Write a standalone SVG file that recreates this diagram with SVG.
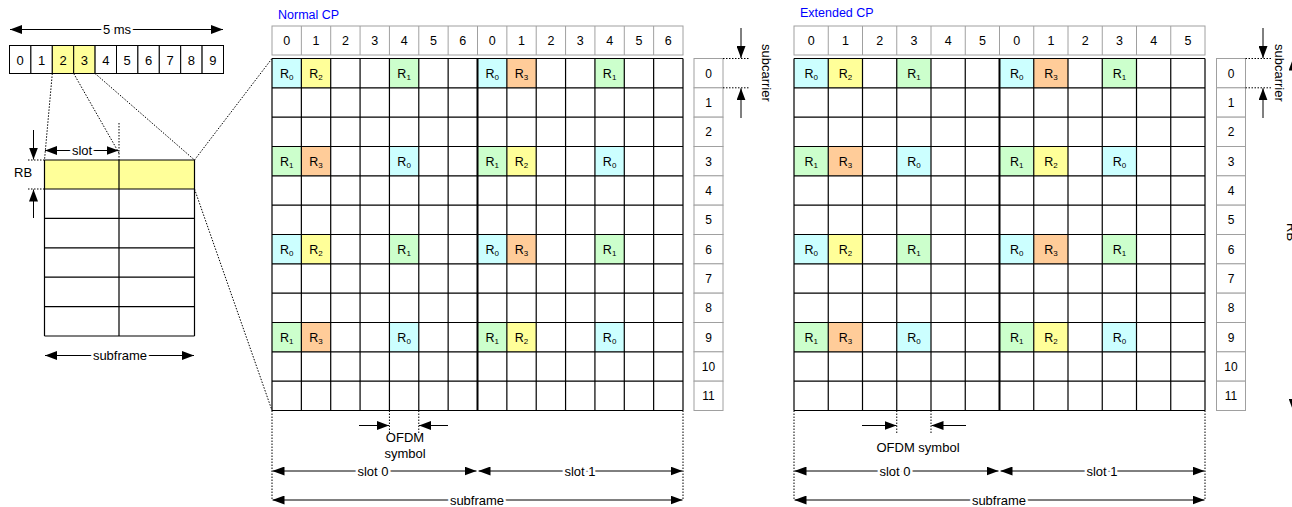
<svg xmlns="http://www.w3.org/2000/svg" xmlns:xlink="http://www.w3.org/1999/xlink" width="1292" height="507" viewBox="0 0 1292 507">
<style>
text{font-family:"Liberation Sans",Arial,sans-serif;font-size:13px;fill:#000}
.c{text-anchor:middle}
.hd{font-size:12.5px}
.ix{font-size:12px}
.r{font-size:12.5px;text-anchor:middle}
.sub{font-size:8px}
.lbl{text-anchor:middle;stroke:#fff;stroke-width:5;paint-order:stroke;stroke-linejoin:round}
.blue{fill:#0000ff;font-size:12.5px}
.box{fill:#fff;stroke:#000;stroke-width:1}
.hbox{fill:#fff;stroke:#a0a0a0;stroke-width:1}
.grid{fill:none;stroke:#000;stroke-width:1.2}
.thick{fill:none;stroke:#000;stroke-width:2}
.dot{fill:none;stroke:#000;stroke-width:1;stroke-dasharray:1.5 1.5}
.arr{fill:none;stroke:#000;stroke-width:1}
.a1{marker-end:url(#ah)}
.a2{marker-start:url(#ah);marker-end:url(#ah)}
.R0{fill:#ccffff}.R1{fill:#ccffcc}.R2{fill:#ffff99}.R3{fill:#ffcc99}
</style>
<defs>
<marker id="ah" viewBox="0 0 12 9" refX="12" refY="4.5" markerWidth="12" markerHeight="9" orient="auto-start-reverse" markerUnits="userSpaceOnUse"><path d="M0,0L12,4.5L0,9z" fill="#000"/></marker>
<g id="nA">
<rect class="R0" x="272" y="58.5" width="29.36" height="29.33"/>
<rect class="R2" x="301.36" y="58.5" width="29.36" height="29.33"/>
<rect class="R1" x="389.43" y="58.5" width="29.36" height="29.33"/>
<rect class="R0" x="477.5" y="58.5" width="29.36" height="29.33"/>
<rect class="R3" x="506.86" y="58.5" width="29.36" height="29.33"/>
<rect class="R1" x="594.93" y="58.5" width="29.36" height="29.33"/>
<text class="r" x="286.68" y="77.5">R<tspan class="sub" dy="2">0</tspan></text>
<text class="r" x="316.04" y="77.5">R<tspan class="sub" dy="2">2</tspan></text>
<text class="r" x="404.11" y="77.5">R<tspan class="sub" dy="2">1</tspan></text>
<text class="r" x="492.18" y="77.5">R<tspan class="sub" dy="2">0</tspan></text>
<text class="r" x="521.54" y="77.5">R<tspan class="sub" dy="2">3</tspan></text>
<text class="r" x="609.61" y="77.5">R<tspan class="sub" dy="2">1</tspan></text>
</g>
<g id="nB">
<rect class="R1" x="272" y="146.5" width="29.36" height="29.33"/>
<rect class="R3" x="301.36" y="146.5" width="29.36" height="29.33"/>
<rect class="R0" x="389.43" y="146.5" width="29.36" height="29.33"/>
<rect class="R1" x="477.5" y="146.5" width="29.36" height="29.33"/>
<rect class="R2" x="506.86" y="146.5" width="29.36" height="29.33"/>
<rect class="R0" x="594.93" y="146.5" width="29.36" height="29.33"/>
<text class="r" x="286.68" y="165.5">R<tspan class="sub" dy="2">1</tspan></text>
<text class="r" x="316.04" y="165.5">R<tspan class="sub" dy="2">3</tspan></text>
<text class="r" x="404.11" y="165.5">R<tspan class="sub" dy="2">0</tspan></text>
<text class="r" x="492.18" y="165.5">R<tspan class="sub" dy="2">1</tspan></text>
<text class="r" x="521.54" y="165.5">R<tspan class="sub" dy="2">2</tspan></text>
<text class="r" x="609.61" y="165.5">R<tspan class="sub" dy="2">0</tspan></text>
</g>
<g id="eA">
<rect class="R0" x="794" y="58.5" width="34.25" height="29.33"/>
<rect class="R2" x="828.25" y="58.5" width="34.25" height="29.33"/>
<rect class="R1" x="896.75" y="58.5" width="34.25" height="29.33"/>
<rect class="R0" x="999.5" y="58.5" width="34.25" height="29.33"/>
<rect class="R3" x="1033.75" y="58.5" width="34.25" height="29.33"/>
<rect class="R1" x="1102.25" y="58.5" width="34.25" height="29.33"/>
<text class="r" x="811.13" y="77.5">R<tspan class="sub" dy="2">0</tspan></text>
<text class="r" x="845.38" y="77.5">R<tspan class="sub" dy="2">2</tspan></text>
<text class="r" x="913.88" y="77.5">R<tspan class="sub" dy="2">1</tspan></text>
<text class="r" x="1016.63" y="77.5">R<tspan class="sub" dy="2">0</tspan></text>
<text class="r" x="1050.88" y="77.5">R<tspan class="sub" dy="2">3</tspan></text>
<text class="r" x="1119.38" y="77.5">R<tspan class="sub" dy="2">1</tspan></text>
</g>
<g id="eB">
<rect class="R1" x="794" y="146.5" width="34.25" height="29.33"/>
<rect class="R3" x="828.25" y="146.5" width="34.25" height="29.33"/>
<rect class="R0" x="896.75" y="146.5" width="34.25" height="29.33"/>
<rect class="R1" x="999.5" y="146.5" width="34.25" height="29.33"/>
<rect class="R2" x="1033.75" y="146.5" width="34.25" height="29.33"/>
<rect class="R0" x="1102.25" y="146.5" width="34.25" height="29.33"/>
<text class="r" x="811.13" y="165.5">R<tspan class="sub" dy="2">1</tspan></text>
<text class="r" x="845.38" y="165.5">R<tspan class="sub" dy="2">3</tspan></text>
<text class="r" x="913.88" y="165.5">R<tspan class="sub" dy="2">0</tspan></text>
<text class="r" x="1016.63" y="165.5">R<tspan class="sub" dy="2">1</tspan></text>
<text class="r" x="1050.88" y="165.5">R<tspan class="sub" dy="2">2</tspan></text>
<text class="r" x="1119.38" y="165.5">R<tspan class="sub" dy="2">0</tspan></text>
</g>
<g id="idx">
<rect class="hbox" x="0" y="58.5" width="29" height="29.33"/>
<rect class="hbox" x="0" y="87.83" width="29" height="29.33"/>
<rect class="hbox" x="0" y="117.17" width="29" height="29.33"/>
<rect class="hbox" x="0" y="146.5" width="29" height="29.33"/>
<rect class="hbox" x="0" y="175.83" width="29" height="29.33"/>
<rect class="hbox" x="0" y="205.17" width="29" height="29.33"/>
<rect class="hbox" x="0" y="234.5" width="29" height="29.33"/>
<rect class="hbox" x="0" y="263.83" width="29" height="29.33"/>
<rect class="hbox" x="0" y="293.17" width="29" height="29.33"/>
<rect class="hbox" x="0" y="322.5" width="29" height="29.33"/>
<rect class="hbox" x="0" y="351.83" width="29" height="29.33"/>
<rect class="hbox" x="0" y="381.17" width="29" height="29.33"/>
<text class="c ix" x="14.5" y="77.5">0</text>
<text class="c ix" x="14.5" y="106.8">1</text>
<text class="c ix" x="14.5" y="136.1">2</text>
<text class="c ix" x="14.5" y="165.5">3</text>
<text class="c ix" x="14.5" y="194.8">4</text>
<text class="c ix" x="14.5" y="224.1">5</text>
<text class="c ix" x="14.5" y="253.5">6</text>
<text class="c ix" x="14.5" y="282.8">7</text>
<text class="c ix" x="14.5" y="312.1">8</text>
<text class="c ix" x="14.5" y="341.5">9</text>
<text class="c ix" x="14.5" y="370.8">10</text>
<text class="c ix" x="14.5" y="400.1">11</text>
</g>
</defs>
<rect width="1292" height="507" fill="#fff"/>

<g id="frame">
<rect class="box" x="9.5" y="45.5" width="21.4" height="28"/>
<rect class="box" x="30.9" y="45.5" width="21.4" height="28"/>
<rect class="box R2" x="52.3" y="45.5" width="21.4" height="28" stroke="#000"/>
<rect class="box R2" x="73.7" y="45.5" width="21.4" height="28" stroke="#000"/>
<rect class="box" x="95.1" y="45.5" width="21.4" height="28"/>
<rect class="box" x="116.5" y="45.5" width="21.4" height="28"/>
<rect class="box" x="137.9" y="45.5" width="21.4" height="28"/>
<rect class="box" x="159.3" y="45.5" width="21.4" height="28"/>
<rect class="box" x="180.7" y="45.5" width="21.4" height="28"/>
<rect class="box" x="202.1" y="45.5" width="21.4" height="28"/>
<text class="c" x="20.2" y="64.5">0</text>
<text class="c" x="41.6" y="64.5">1</text>
<text class="c" x="63" y="64.5">2</text>
<text class="c" x="84.4" y="64.5">3</text>
<text class="c" x="105.8" y="64.5">4</text>
<text class="c" x="127.2" y="64.5">5</text>
<text class="c" x="148.6" y="64.5">6</text>
<text class="c" x="170" y="64.5">7</text>
<text class="c" x="191.4" y="64.5">8</text>
<text class="c" x="212.8" y="64.5">9</text>
</g>

<g id="rb-block">
<rect x="44.5" y="160" width="150" height="29" fill="#ffff99"/>
<path class="grid" d="M44.5 160H194.5M44.5 189H194.5M44.5 218.4H194.5M44.5 247.8H194.5M44.5 277.2H194.5M44.5 306.6H194.5M44.5 336H194.5M44.5 160V336M119 160V336M194.5 160V336" stroke-width="1.3"/>
<text x="14" y="177">RB</text>
</g>

<g id="normal-cp">
<text class="blue" x="278" y="19">Normal CP</text>
<g id="normal-header">
<rect class="hbox" x="272" y="26" width="411" height="29"/>
<path fill="none" stroke="#a0a0a0" d="M301.36 26V55M330.71 26V55M360.07 26V55M389.43 26V55M418.79 26V55M448.14 26V55M477.5 26V55M506.86 26V55M536.21 26V55M565.57 26V55M594.93 26V55M624.29 26V55M653.64 26V55"/>
<text class="c hd" x="286.68" y="45">0</text>
<text class="c hd" x="316.04" y="45">1</text>
<text class="c hd" x="345.39" y="45">2</text>
<text class="c hd" x="374.75" y="45">3</text>
<text class="c hd" x="404.11" y="45">4</text>
<text class="c hd" x="433.46" y="45">5</text>
<text class="c hd" x="462.82" y="45">6</text>
<text class="c hd" x="492.18" y="45">0</text>
<text class="c hd" x="521.54" y="45">1</text>
<text class="c hd" x="550.89" y="45">2</text>
<text class="c hd" x="580.25" y="45">3</text>
<text class="c hd" x="609.61" y="45">4</text>
<text class="c hd" x="638.96" y="45">5</text>
<text class="c hd" x="668.32" y="45">6</text>
</g>
<use xlink:href="#nA"/>
<use xlink:href="#nB"/>
<use xlink:href="#nA" y="176"/>
<use xlink:href="#nB" y="176"/>
<path class="grid" d="M272 58.5V410.5M301.36 58.5V410.5M330.71 58.5V410.5M360.07 58.5V410.5M389.43 58.5V410.5M418.79 58.5V410.5M448.14 58.5V410.5M506.86 58.5V410.5M536.21 58.5V410.5M565.57 58.5V410.5M594.93 58.5V410.5M624.29 58.5V410.5M653.64 58.5V410.5M683 58.5V410.5M272 58.5H683M272 87.83H683M272 117.17H683M272 146.5H683M272 175.83H683M272 205.17H683M272 234.5H683M272 263.83H683M272 293.17H683M272 322.5H683M272 351.83H683M272 381.17H683M272 410.5H683"/>
<path class="thick" d="M477.5 58.5V410.5"/>
<text class="c" x="405" y="442">OFDM</text>
<text class="c" x="405" y="458">symbol</text>
</g>
<g id="normal-index" transform="translate(694,0)"><use xlink:href="#idx"/></g>

<g id="extended-cp">
<text class="blue" x="800" y="17">Extended CP</text>
<g id="extended-header">
<rect class="hbox" x="794" y="26" width="411" height="29"/>
<path fill="none" stroke="#a0a0a0" d="M828.25 26V55M862.5 26V55M896.75 26V55M931 26V55M965.25 26V55M999.5 26V55M1033.75 26V55M1068 26V55M1102.25 26V55M1136.5 26V55M1170.75 26V55"/>
<text class="c hd" x="811.13" y="45">0</text>
<text class="c hd" x="845.38" y="45">1</text>
<text class="c hd" x="879.63" y="45">2</text>
<text class="c hd" x="913.88" y="45">3</text>
<text class="c hd" x="948.13" y="45">4</text>
<text class="c hd" x="982.38" y="45">5</text>
<text class="c hd" x="1016.63" y="45">0</text>
<text class="c hd" x="1050.88" y="45">1</text>
<text class="c hd" x="1085.13" y="45">2</text>
<text class="c hd" x="1119.38" y="45">3</text>
<text class="c hd" x="1153.63" y="45">4</text>
<text class="c hd" x="1187.88" y="45">5</text>
</g>
<use xlink:href="#eA"/>
<use xlink:href="#eB"/>
<use xlink:href="#eA" y="176"/>
<use xlink:href="#eB" y="176"/>
<path class="grid" d="M794 58.5V410.5M828.25 58.5V410.5M862.5 58.5V410.5M896.75 58.5V410.5M931 58.5V410.5M965.25 58.5V410.5M1033.75 58.5V410.5M1068 58.5V410.5M1102.25 58.5V410.5M1136.5 58.5V410.5M1170.75 58.5V410.5M1205 58.5V410.5M794 58.5H1205M794 87.83H1205M794 117.17H1205M794 146.5H1205M794 175.83H1205M794 205.17H1205M794 234.5H1205M794 263.83H1205M794 293.17H1205M794 322.5H1205M794 351.83H1205M794 381.17H1205M794 410.5H1205"/>
<path class="thick" d="M999.5 58.5V410.5"/>
<text class="c" x="918" y="452">OFDM symbol</text>
</g>
<g id="extended-index" transform="translate(1216.5,0)"><use xlink:href="#idx"/></g>

<g id="connectors">
<path class="dot" d="M52.3 73.5L44.5 160M73.7 73.5L119 153M95.1 73.5L194.5 160M194.5 160L272 58.5M194.5 189L272 410.5"/>
<path class="dot" d="M119 123V160M28 160H44.5M28 189H44.5"/>
<line class="arr a2" x1="10" y1="29.5" x2="223" y2="29.5"/>
<text class="lbl" x="117" y="34">5 ms</text>
<line class="arr a2" x1="45" y1="150.5" x2="118.5" y2="150.5"/>
<text class="lbl" x="82" y="155">slot</text>
<line class="arr a1" x1="33.5" y1="130" x2="33.5" y2="159.5"/>
<line class="arr a1" x1="33.5" y1="218" x2="33.5" y2="189.5"/>
<line class="arr a2" x1="45" y1="355.5" x2="194" y2="355.5"/>
<text class="lbl" x="120" y="360">subframe</text>

<path class="dot" d="M723 58.5H750M723 87.8H750"/>
<line class="arr a1" x1="741" y1="28" x2="741" y2="58"/>
<line class="arr a1" x1="741" y1="118" x2="741" y2="88.3"/>
<text transform="translate(762,44) rotate(90)">subcarrier</text>

<path class="dot" d="M1245.5 58.5H1272M1245.5 87.8H1272"/>
<line class="arr a1" x1="1263" y1="28" x2="1263" y2="58"/>
<line class="arr a1" x1="1263" y1="118" x2="1263" y2="88.3"/>
<text transform="translate(1274.5,44) rotate(90)">subcarrier</text>

<line class="arr a2" x1="1293" y1="58.5" x2="1293" y2="410.5"/>
<text transform="translate(1287,223) rotate(90)">RB</text>

<path class="dot" d="M272 410.5V500M683 410.5V500M389.43 410.5V433M418.79 410.5V433"/>
<line class="arr a1" x1="359" y1="425.5" x2="389" y2="425.5"/>
<line class="arr a1" x1="448" y1="425.5" x2="419" y2="425.5"/>
<line class="arr a2" x1="272.5" y1="471" x2="476.5" y2="471"/>
<line class="arr a2" x1="478.5" y1="471" x2="682.5" y2="471"/>
<text class="lbl" x="373" y="475.5">slot 0</text>
<text class="lbl" x="580" y="475.5">slot 1</text>
<line class="arr a2" x1="272.5" y1="500" x2="682.5" y2="500"/>
<text class="lbl" x="477" y="504.5">subframe</text>

<path class="dot" d="M794 410.5V500M1205 410.5V500M896.75 410.5V433M931 410.5V433"/>
<line class="arr a1" x1="862" y1="425.5" x2="896.5" y2="425.5"/>
<line class="arr a1" x1="966" y1="425.5" x2="931.5" y2="425.5"/>
<line class="arr a2" x1="794.5" y1="471" x2="998.5" y2="471"/>
<line class="arr a2" x1="1000.5" y1="471" x2="1204.5" y2="471"/>
<text class="lbl" x="895" y="475.5">slot 0</text>
<text class="lbl" x="1102" y="475.5">slot 1</text>
<line class="arr a2" x1="794.5" y1="500" x2="1204.5" y2="500"/>
<text class="lbl" x="999" y="504.5">subframe</text>
</g>
</svg>
